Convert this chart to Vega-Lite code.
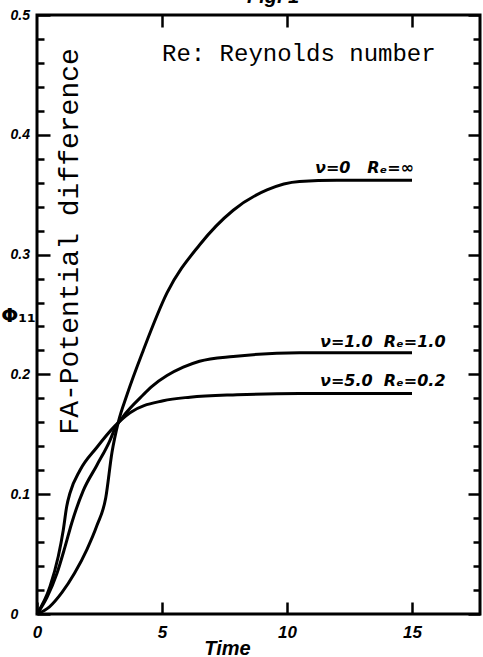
{
  "$schema": "https://vega.github.io/schema/vega-lite/v6.json",
  "width": 443,
  "height": 599,
  "autosize": {"type": "none"},
  "padding": {"left": 37, "top": 15, "right": 3, "bottom": 43},
  "background": "white",
  "config": {
    "view": {"stroke": "black", "strokeWidth": 3},
    "axis": {"domain": false, "grid": false, "tickColor": "black", "tickWidth": 2.5, "labelColor": "black", "titleColor": "black", "labelOverlap": false, "labelFlush": false, "labelBound": false}
  },
  "datasets": {
    "curves": [
      {"s": "nu0", "t": 0, "phi": 0},
      {"s": "nu0", "t": 0.5, "phi": 0.006},
      {"s": "nu0", "t": 1.0, "phi": 0.018},
      {"s": "nu0", "t": 1.5, "phi": 0.034},
      {"s": "nu0", "t": 2.0, "phi": 0.054},
      {"s": "nu0", "t": 2.4, "phi": 0.074},
      {"s": "nu0", "t": 2.75, "phi": 0.097},
      {"s": "nu0", "t": 3.0, "phi": 0.135},
      {"s": "nu0", "t": 3.25, "phi": 0.16},
      {"s": "nu0", "t": 3.6, "phi": 0.183},
      {"s": "nu0", "t": 4.25, "phi": 0.22},
      {"s": "nu0", "t": 5.2, "phi": 0.268},
      {"s": "nu0", "t": 6.5, "phi": 0.308},
      {"s": "nu0", "t": 7.85, "phi": 0.337},
      {"s": "nu0", "t": 9.2, "phi": 0.354},
      {"s": "nu0", "t": 10.5, "phi": 0.361},
      {"s": "nu0", "t": 12, "phi": 0.362},
      {"s": "nu0", "t": 15, "phi": 0.362},
      {"s": "nu1", "t": 0, "phi": 0},
      {"s": "nu1", "t": 0.4, "phi": 0.014},
      {"s": "nu1", "t": 0.8, "phi": 0.034},
      {"s": "nu1", "t": 1.12, "phi": 0.056},
      {"s": "nu1", "t": 1.39, "phi": 0.076},
      {"s": "nu1", "t": 1.85, "phi": 0.103},
      {"s": "nu1", "t": 2.39, "phi": 0.124},
      {"s": "nu1", "t": 2.92, "phi": 0.145},
      {"s": "nu1", "t": 3.12, "phi": 0.155},
      {"s": "nu1", "t": 3.45, "phi": 0.165},
      {"s": "nu1", "t": 4.25, "phi": 0.183},
      {"s": "nu1", "t": 4.6, "phi": 0.19},
      {"s": "nu1", "t": 5.2, "phi": 0.199},
      {"s": "nu1", "t": 5.85, "phi": 0.206},
      {"s": "nu1", "t": 6.5, "phi": 0.211},
      {"s": "nu1", "t": 7.85, "phi": 0.215},
      {"s": "nu1", "t": 10.5, "phi": 0.218},
      {"s": "nu1", "t": 15, "phi": 0.218},
      {"s": "nu5", "t": 0, "phi": 0},
      {"s": "nu5", "t": 0.52, "phi": 0.023},
      {"s": "nu5", "t": 0.85, "phi": 0.048},
      {"s": "nu5", "t": 1.05, "phi": 0.07},
      {"s": "nu5", "t": 1.19, "phi": 0.09},
      {"s": "nu5", "t": 1.32, "phi": 0.101},
      {"s": "nu5", "t": 1.72, "phi": 0.12},
      {"s": "nu5", "t": 2.39, "phi": 0.139},
      {"s": "nu5", "t": 3.12, "phi": 0.157},
      {"s": "nu5", "t": 3.72, "phi": 0.168},
      {"s": "nu5", "t": 5.05, "phi": 0.178},
      {"s": "nu5", "t": 6.12, "phi": 0.181},
      {"s": "nu5", "t": 8, "phi": 0.183},
      {"s": "nu5", "t": 10.5, "phi": 0.184},
      {"s": "nu5", "t": 15, "phi": 0.184}
    ],
    "curveLabels": [
      {"t": 11.12, "phi": 0.368, "label": "ν=0\u00a0\u00a0\u00a0Rₑ=∞"},
      {"t": 11.32, "phi": 0.223, "label": "ν=1.0\u00a0\u00a0Rₑ=1.0"},
      {"t": 11.32, "phi": 0.19, "label": "ν=5.0\u00a0\u00a0Rₑ=0.2"}
    ],
    "note": [{"t": 5.0, "phi": 0.4616, "label": "Re: Reynolds number"}],
    "ylabel": [{"t": 1.64, "phi": 0.311, "label": "FA-Potential difference"}],
    "fig": [{"t": 8.4, "phi": 0.5102, "label": "Fig. 1"}]
  },
  "resolve": {"axis": {"x": "independent", "y": "independent"}},
  "layer": [
    {
      "data": {"name": "curves"},
      "mark": {"type": "line", "color": "black", "strokeWidth": 3, "interpolate": "monotone"},
      "encoding": {
        "x": {
          "field": "t", "type": "quantitative",
          "scale": {"domain": [0, 17.72], "nice": false, "zero": false},
          "axis": {
            "orient": "bottom", "values": [0, 5, 10, 15], "tickSize": -12,
            "labelFont": "Liberation Sans", "labelFontSize": 17, "labelFontWeight": "bold", "labelFontStyle": "italic", "labelPadding": 22,
            "title": "Time", "titleFont": "Liberation Sans", "titleFontSize": 20, "titleFontWeight": "bold", "titleFontStyle": "italic",
            "titleX": 190, "titleY": 40, "titleAlign": "center", "titleBaseline": "alphabetic"
          }
        },
        "y": {
          "field": "phi", "type": "quantitative",
          "scale": {"domain": [0, 0.5], "nice": false, "zero": false},
          "axis": {
            "orient": "left",
            "values": [0, 0.02, 0.04, 0.06, 0.08, 0.1, 0.12, 0.14, 0.16, 0.18, 0.2, 0.22, 0.24, 0.26, 0.28, 0.3, 0.32, 0.34, 0.36, 0.38, 0.4, 0.42, 0.44, 0.46, 0.48, 0.5],
            "tickSize": {"condition": {"test": "abs(datum.value*10 - round(datum.value*10)) < 0.001", "value": -13}, "value": -7},
            "labelExpr": "abs(datum.value*10 - round(datum.value*10)) < 0.001 ? (datum.value == 0 ? '0' : format(datum.value, '.1f')) : ''",
            "labelAlign": "left", "labelPadding": 40,
            "labelFont": "Liberation Sans", "labelFontSize": 14, "labelFontWeight": "bold", "labelFontStyle": "italic",
            "title": "Φ₁₁", "titleAngle": 0, "titleX": -19, "titleY": 300, "titleAlign": "center", "titleBaseline": "middle",
            "titleFont": "DejaVu Sans", "titleFontSize": 20, "titleFontWeight": "bold"
          }
        },
        "detail": {"field": "s"}
      }
    },
    {
      "data": {"name": "curveLabels"},
      "mark": {"type": "text", "align": "left", "baseline": "alphabetic", "font": "DejaVu Sans", "fontSize": 16, "fontWeight": "bold", "fontStyle": "italic", "color": "black"},
      "encoding": {
        "x": {"field": "t", "type": "quantitative", "axis": {"orient": "top", "values": [5, 10, 15], "tickSize": -12, "labels": false, "title": null}},
        "y": {"field": "phi", "type": "quantitative", "axis": {"orient": "right", "values": [0, 0.02, 0.04, 0.06, 0.08, 0.1, 0.12, 0.14, 0.16, 0.18, 0.2, 0.22, 0.24, 0.26, 0.28, 0.3, 0.32, 0.34, 0.36, 0.38, 0.4, 0.42, 0.44, 0.46, 0.48, 0.5],
          "tickSize": {"condition": {"test": "abs(datum.value*10 - round(datum.value*10)) < 0.001", "value": -12}, "value": -7}, "labels": false, "title": null}},
        "text": {"field": "label"}
      }
    },
    {
      "data": {"name": "note"},
      "mark": {"type": "text", "align": "left", "baseline": "alphabetic", "font": "Liberation Mono", "fontSize": 24, "color": "black"},
      "encoding": {
        "x": {"field": "t", "type": "quantitative", "axis": null},
        "y": {"field": "phi", "type": "quantitative", "axis": null},
        "text": {"field": "label"}
      }
    },
    {
      "data": {"name": "ylabel"},
      "mark": {"type": "text", "align": "center", "baseline": "alphabetic", "angle": 270, "font": "Liberation Mono", "fontSize": 28, "color": "black"},
      "encoding": {
        "x": {"field": "t", "type": "quantitative", "axis": null},
        "y": {"field": "phi", "type": "quantitative", "axis": null},
        "text": {"field": "label"}
      }
    },
    {
      "data": {"name": "fig"},
      "mark": {"type": "text", "align": "left", "baseline": "alphabetic", "font": "Liberation Sans", "fontSize": 20, "fontStyle": "italic", "fontWeight": "bold", "color": "black"},
      "encoding": {
        "x": {"field": "t", "type": "quantitative", "axis": null},
        "y": {"field": "phi", "type": "quantitative", "axis": null},
        "text": {"field": "label"}
      }
    }
  ]
}
